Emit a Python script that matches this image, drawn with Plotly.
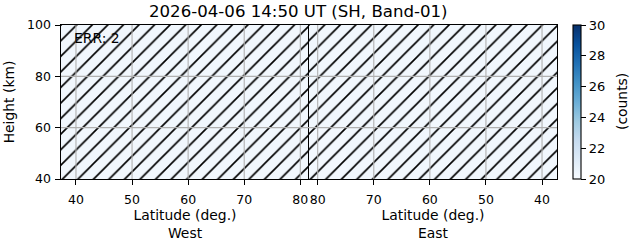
import plotly.graph_objects as go
from plotly.subplots import make_subplots
from plotly.colors import sequential

# ---- data ----
title_text = "2026-04-06 14:50 UT (SH, Band-01)"
err_text = "ERR: 2"
west_lat_edges = [37.33, 45.0, 55.0, 65.0, 75.0, 81.55]
east_lat_edges = [81.55, 75.0, 65.0, 55.0, 45.0, 37.33]
height_edges = [40, 60, 80, 100]
west_counts = [
    [20.3, 20.3, 20.3, 20.3, 20.3],
    [20.3, 20.3, 20.3, 20.3, 20.3],
    [20.3, 20.3, 20.3, 20.3, 20.3],
]
east_counts = [
    [20.2, 20.3, 20.3, 20.3, 20.3],
    [20.3, 20.3, 20.3, 20.3, 20.3],
    [20.3, 20.3, 20.3, 20.3, 20.3],
]
lat_ticks = [40, 50, 60, 70, 80]
height_ticks = [40, 60, 80, 100]
cbar_ticks = [20, 22, 24, 26, 28, 30]
cmin, cmax = 20, 30

FONT = "DejaVu Sans"
GRID = "#b0b0b0"

fig = make_subplots(rows=1, cols=2, shared_yaxes=True, horizontal_spacing=0)

for col, edges, z in [(1, west_lat_edges, west_counts), (2, east_lat_edges, east_counts)]:
    fig.add_trace(go.Heatmap(x=edges, y=height_edges, z=z, coloraxis="coloraxis",
                             hoverinfo="skip"), row=1, col=col)
    lo, hi = min(edges), max(edges)
    y0, y1 = min(height_edges), max(height_edges)
    fig.add_trace(go.Scatter(
        x=[lo, hi, hi, lo, lo], y=[y0, y0, y1, y1, y0], mode="lines",
        fill="toself", fillcolor="rgba(0,0,0,0)", line=dict(width=0),
        fillpattern=dict(shape="/", size=11, solidity=0.15, fgcolor="black",
                         bgcolor="rgba(0,0,0,0)", fillmode="replace"),
        hoverinfo="skip", showlegend=False), row=1, col=col)

# grid lines drawn above the image (as matplotlib does)
shapes = []
for xr, yr in [("x", "y"), ("x2", "y2")]:
    for t in lat_ticks:
        shapes.append(dict(type="line", xref=xr, yref=yr + " domain", x0=t, x1=t, y0=0, y1=1,
                           line=dict(color=GRID, width=1.1), layer="above"))
    for t in height_ticks:
        if min(height_edges) < t < max(height_edges):
            shapes.append(dict(type="line", xref=xr + " domain", yref=yr, x0=0, x1=1, y0=t, y1=t,
                               line=dict(color=GRID, width=1.1), layer="above"))

axis_common = dict(showline=True, linecolor="black", linewidth=1.1, mirror=True,
                   ticks="outside", ticklen=4.5, tickwidth=1.1, tickcolor="black",
                   showgrid=False, zeroline=False, ticklabelstandoff=2,
                   tickfont=dict(family=FONT, size=12.5, color="black"))

fig.update_xaxes(**axis_common, tickvals=lat_ticks)
fig.update_xaxes(ticklabelstandoff=4)
fig.update_xaxes(range=[37.33, 81.55], row=1, col=1,
                 title=dict(text="Latitude (deg.)<br>West", standoff=2,
                            font=dict(family=FONT, size=13.9, color="black")))
fig.update_xaxes(range=[81.55, 37.33], row=1, col=2,
                 title=dict(text="Latitude (deg.)<br>East", standoff=2,
                            font=dict(family=FONT, size=13.9, color="black")))
fig.update_yaxes(**axis_common, tickvals=height_ticks, range=[40, 100])
fig.update_yaxes(row=1, col=1,
                 title=dict(text="Height (km)", standoff=9,
                            font=dict(family=FONT, size=13.9, color="black")))
fig.update_yaxes(row=1, col=2, showticklabels=False, ticks="")

fig.update_layout(
    width=631, height=243,
    margin=dict(l=61, r=74, t=25, b=64, autoexpand=False),
    paper_bgcolor="white", plot_bgcolor="white",
    font=dict(family=FONT, size=12.5, color="black"),
    showlegend=False,
    shapes=shapes,
    coloraxis=dict(
        colorscale=sequential.Blues, cmin=cmin, cmax=cmax,
        colorbar=dict(
            thickness=8, thicknessmode="pixels", len=154, lenmode="pixels",
            x=1.0317, xanchor="left", xpad=0, y=0.5, yanchor="middle", ypad=0,
            outlinewidth=1.1, outlinecolor="black",
            ticks="outside", ticklen=5, tickwidth=1.1, tickcolor="black",
            tickvals=cbar_ticks, tickfont=dict(family=FONT, size=13, color="black"),
        ),
    ),
    annotations=[
        dict(text=title_text, xref="paper", yref="paper", x=0.4786, y=(179 - 12) / 154,
             xanchor="center", yanchor="middle", showarrow=False,
             font=dict(family=FONT, size=16.6, color="black")),
        dict(text=err_text, xref="x domain", yref="y domain", x=0.043, y=0.916,
             xanchor="left", yanchor="middle", showarrow=False,
             font=dict(family=FONT, size=13.9, color="black")),
        dict(text="(counts)", xref="paper", yref="paper", x=(622 - 61) / 496, y=0.5,
             xanchor="center", yanchor="middle", textangle=-90, showarrow=False,
             font=dict(family=FONT, size=13.9, color="black")),
    ],
)

fig.write_html("out.html")
